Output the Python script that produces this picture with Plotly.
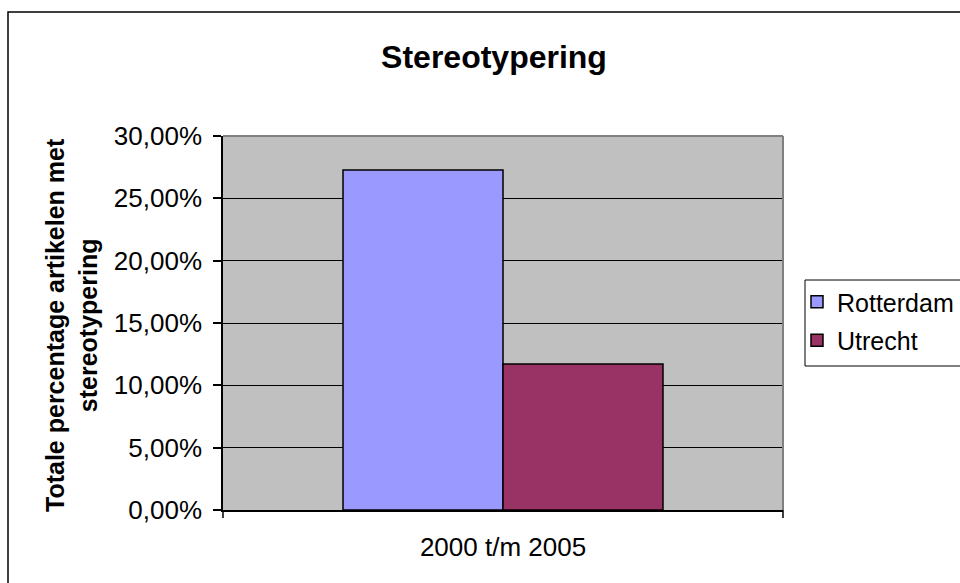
import plotly.graph_objects as go

categories = ["2000 t/m 2005"]
series_names = ["Rotterdam", "Utrecht"]
series_values = [[0.2727], [0.1172]]
series_colors = ["#9999FF", "#993366"]
y_ticks = [0, 0.05, 0.10, 0.15, 0.20, 0.25, 0.30]

W, H = 960, 583
L, R, T, B = 223, 177, 136, 73
pw, ph = W - L - R, H - T - B

def px_x(x):
    return (x - L) / pw

def px_y(y):
    return (H - B - y) / ph

FONT = "Liberation Sans, Arial, sans-serif"

fig = go.Figure()
for name, vals, col in zip(series_names, series_values, series_colors):
    fig.add_trace(go.Bar(
        x=categories, y=vals, name=name, legendgroup=name,
        marker=dict(color=col, line=dict(color="black", width=1.5)),
    ))

fig.update_layout(
    width=W, height=H,
    margin=dict(l=L, r=R, t=T, b=B, autoexpand=False),
    paper_bgcolor="white",
    plot_bgcolor="#C0C0C0",
    barmode="group",
    bargap=0.4286,
    bargroupgap=0,
    separators=",.",
    font=dict(family=FONT, size=26, color="black"),
    title=dict(
        text="<b>Stereotypering</b>",
        font=dict(family=FONT, size=32, color="black"),
        x=494 / W, xref="container", xanchor="center",
        y=1 - 57 / H, yref="container", yanchor="middle",
    ),
    xaxis=dict(
        showgrid=False, showline=True, linecolor="black", linewidth=1.5,
        ticks="", ticklabelstandoff=13,
        tickfont=dict(family=FONT, size=26, color="black"),
    ),
    yaxis=dict(
        range=[0, 0.30], tickvals=y_ticks, tickformat=".2%",
        showgrid=True, gridcolor="black", gridwidth=1,
        showline=True, linecolor="black", linewidth=1.5,
        ticks="outside", ticklen=8, tickcolor="black", tickwidth=1.5,
        ticklabelstandoff=6,
        tickfont=dict(family=FONT, size=26, color="black"),
        zeroline=False,
    ),
    legend=dict(
        x=px_x(797), y=px_y(279), xanchor="left", yanchor="top",
        bgcolor="rgba(0,0,0,0)", borderwidth=0,
        font=dict(family=FONT, size=25, color="black"),
        traceorder="grouped", tracegroupgap=3,
    ),
    showlegend=True,
)

shapes = [
    # outer chart border
    dict(type="rect", xref="paper", yref="paper",
         x0=px_x(8), x1=px_x(1000), y0=px_y(12), y1=px_y(640),
         line=dict(color="black", width=1.5), fillcolor="rgba(0,0,0,0)", layer="below"),
    # legend box
    dict(type="rect", xref="paper", yref="paper",
         x0=px_x(805), x1=px_x(1000), y0=px_y(280), y1=px_y(366),
         line=dict(color="black", width=1), fillcolor="white", layer="below"),
    # top and right plot-area border in gray
    dict(type="line", xref="paper", yref="paper", x0=0, x1=1, y0=1, y1=1,
         line=dict(color="#808080", width=2), layer="above"),
    dict(type="line", xref="paper", yref="paper", x0=1, x1=1, y0=0, y1=1,
         line=dict(color="#808080", width=2), layer="above"),
    # category axis boundary ticks
    dict(type="line", xref="paper", yref="paper", x0=0, x1=0, y0=0, y1=-8 / ph,
         line=dict(color="black", width=1.5)),
    dict(type="line", xref="paper", yref="paper", x0=1, x1=1, y0=0, y1=-8 / ph,
         line=dict(color="black", width=1.5)),
]
fig.update_layout(shapes=shapes)

fig.add_annotation(
    text="<b>Totale percentage artikelen met<br>stereotypering</b>",
    xref="paper", yref="paper", x=px_x(71), y=px_y(325),
    xanchor="center", yanchor="middle", textangle=-90, showarrow=False,
    font=dict(family=FONT, size=25, color="black"),
)

fig.write_html(
    "out.html",
    config={"displayModeBar": False},
    post_script="document.body.style.margin='0';document.body.style.overflow='hidden';",
)
